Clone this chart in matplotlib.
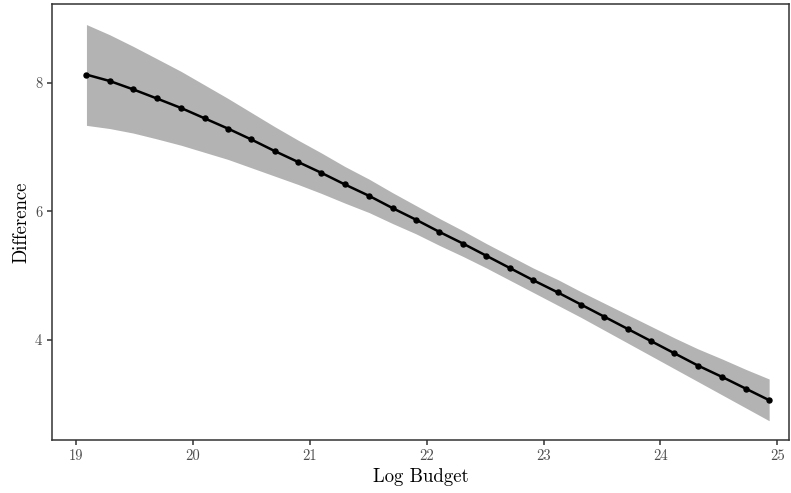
import matplotlib
matplotlib.use("Agg")
import matplotlib.pyplot as plt

# fitted curve of difference against log budget, with its band
log_budget = [19.09, 19.29, 19.49, 19.69, 19.90, 20.10, 20.30, 20.50, 20.70, 20.90,
              21.10, 21.30, 21.51, 21.71, 21.91, 22.11, 22.31, 22.51, 22.71, 22.91,
              23.12, 23.32, 23.52, 23.72, 23.92, 24.12, 24.32, 24.53, 24.73, 24.93]
difference = [8.13, 8.03, 7.90, 7.76, 7.61, 7.45, 7.29, 7.12, 6.94, 6.77,
              6.60, 6.42, 6.24, 6.05, 5.87, 5.68, 5.50, 5.31, 5.12, 4.93,
              4.74, 4.55, 4.36, 4.17, 3.98, 3.79, 3.60, 3.42, 3.24, 3.06]
ci_low = [7.34, 7.29, 7.22, 7.13, 7.03, 6.92, 6.81, 6.68, 6.55, 6.42,
          6.28, 6.13, 5.98, 5.81, 5.65, 5.47, 5.30, 5.12, 4.93, 4.74,
          4.54, 4.35, 4.15, 3.95, 3.75, 3.55, 3.35, 3.14, 2.94, 2.74]
ci_high = [8.91, 8.75, 8.57, 8.38, 8.18, 7.97, 7.76, 7.54, 7.32, 7.11,
           6.91, 6.70, 6.50, 6.29, 6.09, 5.89, 5.70, 5.50, 5.31, 5.12,
           4.94, 4.75, 4.57, 4.39, 4.21, 4.03, 3.86, 3.70, 3.54, 3.39]
x_ticks = [19, 20, 21, 22, 23, 24, 25]
y_ticks = [4, 6, 8]

plt.rcParams['font.family'] = 'cmr10'
plt.rcParams['axes.formatter.use_mathtext'] = True

fig = plt.figure(figsize=(7.91, 4.93), dpi=100)
ax = fig.add_axes([0.0657, 0.1075, 0.9318, 0.8844])

ax.fill_between(log_budget, ci_low, ci_high, color='#B3B3B3', linewidth=0)
ax.plot(log_budget, difference, color='black', linewidth=1.8,
        marker='o', markersize=3.6)

ax.set_xlim(18.795, 25.10)
ax.set_ylim(2.44, 9.23)
ax.set_xticks(x_ticks)
ax.set_yticks(y_ticks)
ax.set_xticklabels([str(t) for t in x_ticks])
ax.set_yticklabels([str(t) for t in y_ticks])

for s in ax.spines.values():
    s.set_color('#333333')
    s.set_linewidth(1.1)
ax.tick_params(colors='#333333', labelcolor='#4D4D4D', labelsize=10.5,
               length=3.5, width=1.1, direction='out')

ax.set_xlabel('Log Budget', fontsize=13.5, labelpad=3)
ax.set_ylabel('Difference', fontsize=13.5, labelpad=3)

fig.savefig('out.png', dpi=100)
